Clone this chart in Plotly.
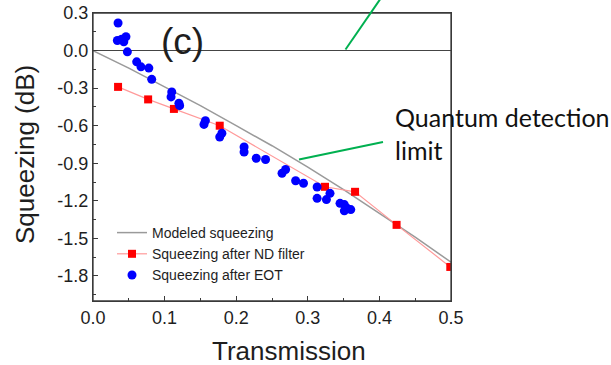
import plotly.graph_objects as go

# ---- data ----
model_T = [0.0, 0.05, 0.10, 0.15, 0.20, 0.25, 0.30, 0.35, 0.40, 0.45, 0.50]
model_S = [0.0, -0.14, -0.29, -0.44, -0.60, -0.76, -0.93, -1.11, -1.30, -1.49, -1.69]

nd_T = [0.035, 0.077, 0.113, 0.177, 0.324, 0.366, 0.424, 0.499]
nd_S = [-0.29, -0.39, -0.466, -0.60, -1.088, -1.128, -1.392, -1.728]

eot_T = [0.035, 0.034, 0.040, 0.046, 0.043, 0.048, 0.061, 0.067, 0.078, 0.082,
         0.110, 0.109, 0.120, 0.121, 0.157, 0.155, 0.180, 0.177, 0.211, 0.211,
         0.228, 0.241, 0.269, 0.264, 0.283, 0.294, 0.313, 0.331, 0.313, 0.326,
         0.345, 0.351, 0.355, 0.360, 0.351]
eot_S = [0.22, 0.08, 0.09, 0.11, 0.07, -0.01, -0.09, -0.13, -0.14, -0.23,
         -0.33, -0.37, -0.42, -0.44, -0.56, -0.59, -0.66, -0.69, -0.77, -0.81,
         -0.86, -0.87, -0.95, -0.98, -1.04, -1.06, -1.09, -1.14, -1.18, -1.19,
         -1.22, -1.23, -1.26, -1.27, -1.28]

x_tick_vals = [0.0, 0.1, 0.2, 0.3, 0.4, 0.5]
x_tick_text = ["0.0", "0.1", "0.2", "0.3", "0.4", "0.5"]
y_tick_vals = [0.3, 0.0, -0.3, -0.6, -0.9, -1.2, -1.5, -1.8]
y_tick_text = ["0.3", "0.0", "-0.3", "-0.6", "-0.9", "-1.2", "-1.5", "-1.8"]

# ---- page geometry ----
W_PAGE, H_PAGE = 611, 365
ML, MR, MT, MB = 93, 160, 13, 64
PW = W_PAGE - ML - MR
PH = H_PAGE - MT - MB


def px(x):
    return (x - ML) / PW


def py(y):
    return (MT + PH - y) / PH


FONT = "Liberation Sans, Arial, sans-serif"
TXT = "#1e1e1e"
AX = "#3a3a3a"
GREEN = "#00b050"

fig = go.Figure()
fig.add_trace(go.Scatter(
    x=model_T, y=model_S, mode="lines", name="Modeled squeezing",
    line=dict(color="#9a9a9a", width=1.5)))
fig.add_trace(go.Scatter(
    x=nd_T, y=nd_S, mode="lines+markers", name="Squeezing after ND filter",
    line=dict(color="#ff9a9a", width=1.2),
    marker=dict(symbol="square", size=8, color="#ff0000")))
fig.add_trace(go.Scatter(
    x=eot_T, y=eot_S, mode="markers", name="Squeezing after EOT",
    marker=dict(symbol="circle", size=9, color="#0000ff")))

axis_common = dict(
    showline=True, linecolor=AX, linewidth=1.3, mirror=True,
    ticks="inside", ticklen=5, tickwidth=1, tickcolor=AX,
    showgrid=False, automargin=False,
    tickfont=dict(family=FONT, size=18, color=TXT),
)

fig.update_xaxes(
    range=[0, 0.5], tickvals=x_tick_vals, ticktext=x_tick_text,
    zeroline=False,
    minor=dict(ticks="inside", ticklen=3, tickcolor=AX, dtick=0.05, showgrid=False),
    **axis_common)
fig.update_yaxes(
    range=[-2.0, 0.3], tickvals=y_tick_vals, ticktext=y_tick_text,
    zeroline=True, zerolinecolor="#444444", zerolinewidth=1.2,
    minor=dict(ticks="inside", ticklen=3, tickcolor=AX, tick0=0, dtick=0.15, showgrid=False),
    **axis_common)

fig.update_layout(
    template="none",
    width=W_PAGE, height=H_PAGE, autosize=False,
    margin=dict(l=ML, r=MR, t=MT, b=MB, pad=0),
    paper_bgcolor="white", plot_bgcolor="white",
    showlegend=True,
    legend=dict(
        x=px(112), y=py(217), xanchor="left", yanchor="top",
        bgcolor="rgba(0,0,0,0)", borderwidth=0,
        font=dict(family=FONT, size=14, color=TXT),
        tracegroupgap=0, itemclick=False,
    ),
    font=dict(family=FONT, color=TXT),
)

annotations = [
    dict(text="(c)", x=px(182.5), y=py(42), xref="paper", yref="paper",
         showarrow=False, xanchor="center", yanchor="middle",
         font=dict(family=FONT, size=37, color=TXT)),
    dict(text="Transmission", x=px(289), y=py(351), xref="paper", yref="paper",
         showarrow=False, xanchor="center", yanchor="middle",
         font=dict(family=FONT, size=26, color=TXT)),
    dict(text="Squeezing (dB)", x=px(25), y=py(155), xref="paper", yref="paper",
         showarrow=False, xanchor="center", yanchor="middle", textangle=-90,
         font=dict(family=FONT, size=26, color=TXT)),
    dict(text="Quantum detection", x=px(393), y=py(117), xref="paper", yref="paper",
         showarrow=False, xanchor="left", yanchor="middle",
         font=dict(family="Lato, sans-serif", size=25, color="#111111")),
    dict(text="limit", x=px(393), y=py(150), xref="paper", yref="paper",
         showarrow=False, xanchor="left", yanchor="middle",
         font=dict(family="Lato, sans-serif", size=25, color="#111111")),
]
fig.update_layout(annotations=annotations)

shapes = [
    # plot frame (top and right edges)
    dict(type="rect", xref="paper", yref="paper", x0=0, y0=0, x1=1, y1=1,
         line=dict(color=AX, width=1.3), fillcolor="rgba(0,0,0,0)", layer="above"),
    dict(type="line", xref="paper", yref="paper",
         x0=px(345.5), y0=py(49.5), x1=px(381), y1=py(-2),
         line=dict(color=GREEN, width=2)),
    dict(type="line", xref="paper", yref="paper",
         x0=px(299), y0=py(159.5), x1=px(383), y1=py(142),
         line=dict(color=GREEN, width=2)),
]
fig.update_layout(shapes=shapes)

fig.write_html("out.html")
